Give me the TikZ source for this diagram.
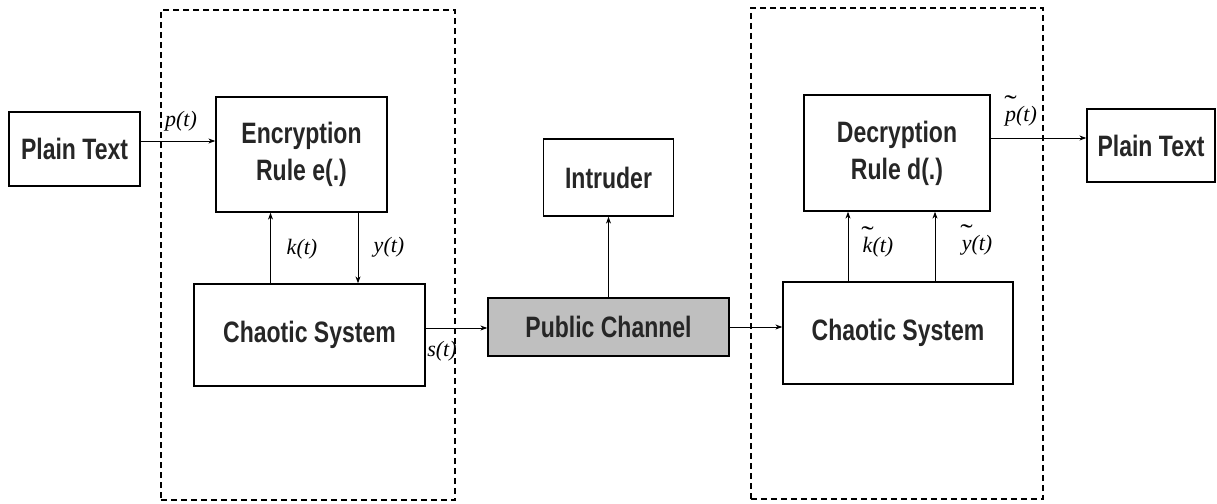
\documentclass[tikz,border=0pt]{standalone}
\usepackage{fontspec}
\newfontfamily\boxfont{Liberation Sans}[FakeStretch=0.78]
\newfontfamily\sigfont{Liberation Serif}
\usetikzlibrary{arrows.meta}
\tikzset{blk/.style={draw,line width=1.3pt,align=center,inner sep=0pt,text=black!85,
    font=\boxfont\bfseries\fontsize{29.5}{37}\selectfont}}
\tikzset{sig/.style={inner sep=0pt,font=\sigfont\itshape\fontsize{22}{24}\selectfont}}
\tikzset{zone/.style={draw,line width=1.6pt,dash pattern=on 6pt off 4pt,inner sep=0pt}}
\tikzset{conn/.style={line width=1pt,-{Stealth[length=7pt,width=5pt]}}}
\newcommand{\tld}[1]{\leavevmode\ooalign{#1\cr\hidewidth\raisebox{0.36em}{\upshape\scalebox{1.7}[1.2]{\char"02DC}}\hidewidth\cr}}

\begin{document}
\begin{tikzpicture}[x=1pt,y=-1pt]
\useasboundingbox (0,0) rectangle (1217,503);
% secure zones
\node[zone,minimum width=294pt,minimum height=490pt] (encZone) at (308,255) {};
\node[zone,minimum width=292pt,minimum height=491pt] (decZone) at (897,253.5) {};
% blocks
\node[blk,minimum width=131pt,minimum height=74pt] (plainL) at (74.5,149) {Plain Text};
\node[blk,minimum width=171pt,minimum height=115pt] (enc) at (301.5,154.5) {Encryption\\Rule e(.)};
\node[blk,minimum width=231pt,minimum height=102pt] (chaosL) at (309.5,335) {Chaotic System};
\node[blk,minimum width=241pt,minimum height=58pt,fill=black!25] (pub) at (608.5,327) {Public Channel};
\node[blk,minimum width=130pt,minimum height=77pt] (intr) at (608.5,177.5) {Intruder};
\node[blk,minimum width=186pt,minimum height=116pt] (decR) at (897,153) {Decryption\\Rule d(.)};
\node[blk,minimum width=230pt,minimum height=102pt] (chaosR) at (898,333) {Chaotic System};
\node[blk,minimum width=128pt,minimum height=73pt] (plainR) at (1151,145.5) {Plain Text};
% connectors
\coordinate (pin) at ([yshift=8pt]plainL.east);
\coordinate (kL) at ([xshift=-31pt]enc.south);
\coordinate (yL) at ([xshift=56.5pt]enc.south);
\coordinate (sL) at ([yshift=7pt]chaosL.east);
\coordinate (kR) at ([xshift=-49pt]decR.south);
\coordinate (yR) at ([xshift=38pt]decR.south);
\coordinate (pout) at ([yshift=15pt]decR.east);
\draw[conn] (pin) -- (pin -| enc.west);
\draw[conn] (kL |- chaosL.north) -- (kL);
\draw[conn] (yL) -- (yL |- chaosL.north);
\draw[conn] (sL) -- (sL -| pub.west);
\draw[conn] (pub.north) -- (intr.south);
\draw[conn] (pub.east) -- (pub.east -| chaosR.west);
\draw[conn] (kR |- chaosR.north) -- (kR);
\draw[conn] (yR |- chaosR.north) -- (yR);
\draw[conn] (pout) -- (pout -| plainR.west);
% signal labels
\node[sig] (pLbl) at (181,121) {p(t)};
\node[sig] (kLbl) at (302,249) {k(t)};
\node[sig] (yLbl) at (389,247) {y(t)};
\node[sig] (sLbl) at (442,351) {s(t)};
\node[sig] (kRLbl) at (878,247) {\tld{k}(t)};
\node[sig] (yRLbl) at (977,245) {\tld{y}(t)};
\node[sig] (pRLbl) at (1021,116) {\tld{p}(t)};
\end{tikzpicture}
\end{document}
